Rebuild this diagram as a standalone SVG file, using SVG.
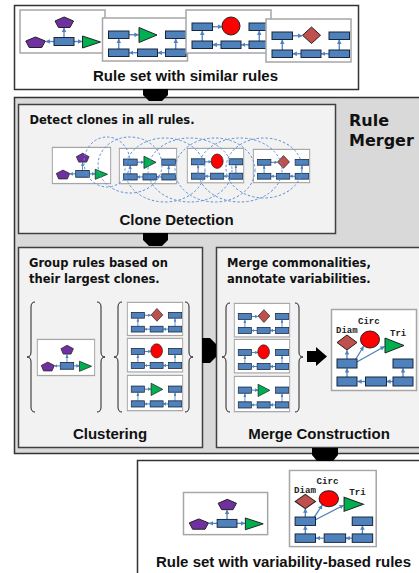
<svg xmlns="http://www.w3.org/2000/svg" width="419" height="573" viewBox="0 0 419 573">
<style>
.tb{fill:#fff;stroke:#a6a6a6;stroke-width:1.5}
.r{fill:#4f81bd;stroke:#17263a;stroke-width:1}
.ar{stroke:#4f81bd;stroke-width:1.3;fill:none;marker-end:url(#ah)}
.pent{fill:#7030a0;stroke:#222;stroke-width:1}
.tri{fill:#00b050;stroke:#222;stroke-width:1}
.circ{fill:#ff0000;stroke:#222;stroke-width:1}
.diam{fill:#c0504d;stroke:#222;stroke-width:1}
.dash{fill:none;stroke:#5b8fd6;stroke-width:1;stroke-dasharray:2.5 2}
.box{fill:#fff;stroke:#333;stroke-width:1.5}
.outer{fill:#d9d9d9;stroke:#333;stroke-width:1.5}
.panel{fill:#f2f2f2;stroke:#404040;stroke-width:1.5}
.brace{fill:none;stroke:#222;stroke-width:1}
.blk{fill:#000}
.t1{font-family:"DejaVu Sans",Verdana,sans-serif;font-weight:bold;font-size:11.5px;fill:#111}
.big{font-family:"DejaVu Sans",Verdana,sans-serif;font-weight:bold;font-size:16px;fill:#111}
.cap{font-family:"Liberation Sans",Arial,sans-serif;font-weight:bold;font-size:15px;fill:#111;text-anchor:middle}
.lbl{font-family:"Liberation Mono","DejaVu Sans Mono",monospace;font-weight:bold;font-size:9px;fill:#222}
</style>
<defs>
<marker id="ah" viewBox="0 0 10 10" refX="9" refY="5" markerWidth="3.5" markerHeight="3.5" orient="auto"><path d="M0,0 L10,5 L0,10 z" fill="#4f81bd"/></marker>
<g id="gen">
<rect class="tb" x="0.5" y="0.5" width="85" height="43"/>
<line class="ar" x1="27" y1="17.25" x2="36.5" y2="17.25"/>
<line class="ar" x1="16.75" y1="31.5" x2="16.75" y2="21.5"/>
<line class="ar" x1="35.5" y1="35.25" x2="27.3" y2="35.25"/>
<line class="ar" x1="63.5" y1="35.25" x2="55.8" y2="35.25"/>
<line class="ar" x1="73.75" y1="31.5" x2="73.75" y2="21.5"/>
<rect class="r" x="6.5" y="13.5" width="20.5" height="7.5"/>
<rect class="r" x="63.5" y="13.5" width="20.5" height="7.5"/>
<rect class="r" x="6.5" y="31.5" width="20.5" height="7.5"/>
<rect class="r" x="35.5" y="31.5" width="20" height="7.5"/>
<rect class="r" x="63.5" y="31.5" width="20.5" height="7.5"/>
</g>
<g id="rTri"><use href="#gen"/><polygon class="tri" points="37,10 55,17.5 37,25"/></g>
<g id="rCirc"><use href="#gen"/><circle class="circ" cx="45.5" cy="16.5" r="9"/></g>
<g id="rDiam"><use href="#gen"/><polygon class="diam" points="46,8.5 55,16.75 46,25 37,16.75"/></g>
<g id="r1">
<rect class="tb" x="0.5" y="0.5" width="85" height="43"/>
<line class="ar" x1="44.5" y1="28" x2="44.5" y2="18.5"/>
<line class="ar" x1="34.5" y1="32" x2="26.3" y2="32"/>
<line class="ar" x1="54.5" y1="32" x2="62.5" y2="32"/>
<polygon class="pent" points="44.7,7.5 54,11.5 50.5,18 39,18 35.5,11.5"/>
<polygon class="pent" points="16,27.5 25.8,31.5 22.3,38 9.7,38 6.3,31.5"/>
<rect class="r" x="34.5" y="28" width="20" height="8"/>
<polygon class="tri" points="63,26.5 81,32.5 63,38.5"/>
</g>
<g id="rM">
<rect class="tb" x="0.5" y="0.5" width="85" height="81"/>
<text class="lbl" x="27" y="15">Circ</text>
<text class="lbl" x="5" y="24">Diam</text>
<text class="lbl" x="59" y="27">Tri</text>
<line class="ar" x1="16" y1="50" x2="16" y2="41.5"/>
<line class="ar" x1="23" y1="53" x2="32.5" y2="37.5"/>
<line class="ar" x1="24" y1="54" x2="53.5" y2="37.5"/>
<line class="ar" x1="16" y1="68" x2="16" y2="59.5"/>
<line class="ar" x1="34" y1="72.5" x2="26.5" y2="72.5"/>
<line class="ar" x1="62" y1="72.5" x2="55.5" y2="72.5"/>
<line class="ar" x1="72" y1="68" x2="72" y2="59.5"/>
<polygon class="diam" points="16,26 26,33.5 16,41 6,33.5"/>
<ellipse class="circ" cx="39" cy="30.5" rx="9.5" ry="8.5"/>
<polygon class="tri" points="54,29 73,36.5 54,44"/>
<rect class="r" x="6" y="50" width="20" height="9"/>
<rect class="r" x="62" y="50" width="20" height="9"/>
<rect class="r" x="6" y="68" width="20" height="9"/>
<rect class="r" x="34.5" y="68" width="21" height="9"/>
<rect class="r" x="62" y="68" width="20" height="9"/>
</g>
</defs>

<g id="input-rules">
<rect class="box" x="14.5" y="5.5" width="344" height="84"/>
<g id="in-rule1"><use href="#r1" transform="translate(19.5,9.5)"/></g>
<g id="in-rule2"><use href="#rTri" transform="translate(102,17.5)"/></g>
<g id="in-rule3"><use href="#rCirc" transform="translate(185.5,9.5)"/></g>
<g id="in-rule4"><use href="#rDiam" transform="translate(265.5,18.5)"/></g>
<text class="cap" x="185.5" y="80.5">Rule set with similar rules</text>
</g>

<g id="rule-merger">
<rect class="outer" x="14.5" y="97.5" width="420" height="356"/>
<text class="big" x="349" y="126">Rule</text>
<text class="big" x="349" y="146">Merger</text>
</g>

<g id="clone-detection">
<rect class="panel" x="18.5" y="104.5" width="317" height="129"/>
<text class="t1" x="29.5" y="123.5">Detect clones in all rules.</text>
<g id="cd-rule1"><use href="#r1" transform="translate(52,147) scale(0.686,0.84)"/></g>
<g id="cd-rule2"><use href="#rTri" transform="translate(119,148) scale(0.674,0.82)"/></g>
<g id="cd-rule3"><use href="#rCirc" transform="translate(187,148) scale(0.663,0.8)"/></g>
<g id="cd-rule4"><use href="#rDiam" transform="translate(253,149) scale(0.663,0.773)"/></g>
<text class="cap" x="176.5" y="224.5">Clone Detection</text>
</g>

<g id="clustering">
<rect class="panel" x="18.5" y="247.5" width="184" height="200"/>
<text class="t1" x="29" y="267.3">Group rules based on</text>
<text class="t1" x="29" y="283.3">their largest clones.</text>
<path class="brace" d="M35,302 Q31,302 31,307 V352 Q31,357 27,357 Q31,357 31,362 V407 Q31,412 35,412"/>
<path class="brace" d="M97,302 Q101,302 101,307 V352 Q101,357 105,357 Q101,357 101,362 V407 Q101,412 97,412"/>
<path class="brace" d="M122,302 Q118,302 118,307 V352 Q118,357 114,357 Q118,357 118,362 V407 Q118,412 122,412"/>
<path class="brace" d="M185,302 Q189,302 189,307 V352 Q189,357 193,357 Q189,357 189,362 V407 Q189,412 185,412"/>
<g id="cl-rule1"><use href="#r1" transform="translate(37,339) scale(0.674,0.84)"/></g>
<g id="cl-rule4"><use href="#rDiam" transform="translate(127,302) scale(0.651,0.77)"/></g>
<g id="cl-rule3"><use href="#rCirc" transform="translate(127,338) scale(0.651,0.78)"/></g>
<g id="cl-rule2"><use href="#rTri" transform="translate(127,375) scale(0.651,0.82)"/></g>
<text class="cap" x="110" y="439">Clustering</text>
</g>

<g id="merge-construction">
<rect class="panel" x="216.5" y="247.5" width="210" height="200"/>
<text class="t1" x="227" y="267.3">Merge commonalities,</text>
<text class="t1" x="227" y="283.3">annotate variabilities.</text>
<path class="brace" d="M230,303 Q226,303 226,308 V352 Q226,357 222,357 Q226,357 226,362 V407 Q226,412 230,412"/>
<path class="brace" d="M295,303 Q299,303 299,308 V352 Q299,357 303,357 Q299,357 299,362 V407 Q299,412 295,412"/>
<g id="mg-rule4"><use href="#rDiam" transform="translate(234,303) scale(0.651,0.78)"/></g>
<g id="mg-rule3"><use href="#rCirc" transform="translate(234,339) scale(0.651,0.78)"/></g>
<g id="mg-rule2"><use href="#rTri" transform="translate(234,376) scale(0.651,0.82)"/></g>
<g id="mg-merged"><use href="#rM" transform="translate(331,309)"/></g>
<text class="cap" x="319" y="439">Merge Construction</text>
</g>

<g id="output-rules">
<rect class="box" x="137.5" y="460.5" width="290" height="120"/>
<g id="out-rule1"><use href="#r1" transform="translate(183,492) scale(0.99,0.98)"/></g>
<g id="out-merged"><use href="#rM" transform="translate(289,470) scale(1.02,0.94)"/></g>
<text class="cap" x="283.5" y="567">Rule set with variability-based rules</text>
</g>

<g id="connectors">
<ellipse class="dash" cx="107" cy="162" rx="23" ry="25"/>
<ellipse class="dash" cx="130" cy="165" rx="32" ry="28"/>
<ellipse class="dash" cx="165" cy="170" rx="40" ry="32"/>
<ellipse class="dash" cx="190" cy="170" rx="42" ry="32"/>
<ellipse class="dash" cx="215" cy="170" rx="40" ry="32"/>
<ellipse class="dash" cx="240" cy="170" rx="42" ry="32"/>
<ellipse class="dash" cx="264" cy="168" rx="38" ry="30"/>
<polygon class="blk" points="143,89 168,89 168,95 162,101 149,101 143,95"/>
<polygon class="blk" points="143,233 168,233 168,240 162,246 149,246 143,240"/>
<polygon class="blk" points="202,338 210,338 216,344 216,357 210,363 202,363"/>
<polygon class="blk" points="307,351 316,351 316,347 327,356.5 316,366 316,362 307,362"/>
<polygon class="blk" points="312,448 338,448 338,455 333,461 317,461 312,455"/>
</g>
</svg>
